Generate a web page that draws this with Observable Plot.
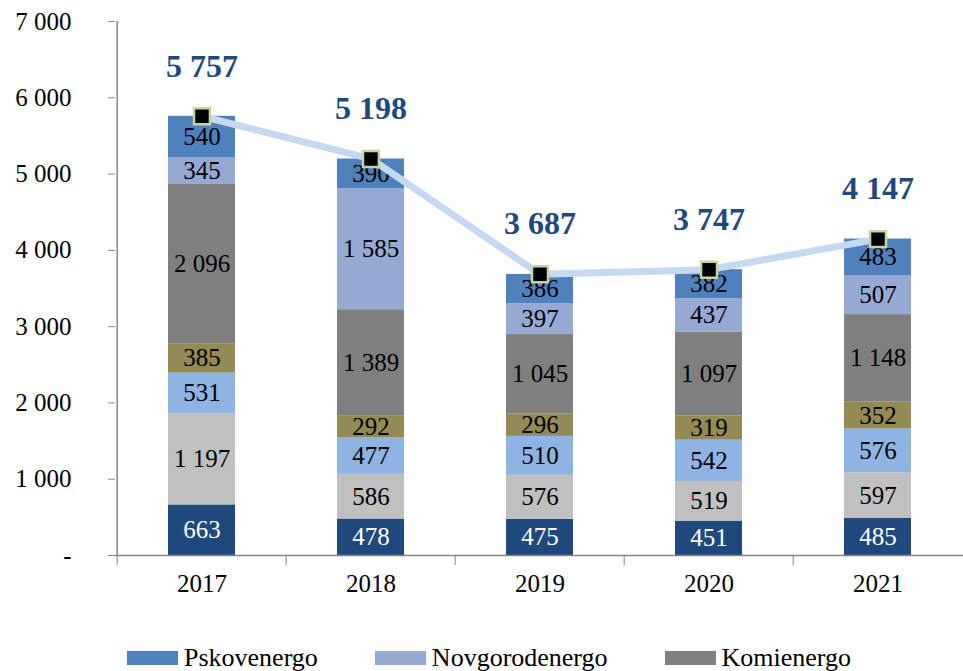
<!DOCTYPE html>
<html>
<head>
<meta charset="utf-8">
<script src="https://cdn.jsdelivr.net/npm/d3@7"></script>
<script src="https://cdn.jsdelivr.net/npm/@observablehq/plot@0.6"></script>
<style>
  body { margin: 0; background: #fff; font-family: "Liberation Serif", serif; }
  #wrap { position: relative; width: 963px; height: 671px; overflow: hidden; }
  #legend { position: absolute; left: 127px; top: 643px; display: flex; align-items: center; font-size: 26px; color: #000; white-space: nowrap; }
  .item { display: flex; align-items: center; margin-right: 57px; }
  .sw { width: 51px; height: 14px; margin-right: 6px; }
</style>
</head>
<body>
<div id="wrap">
  <div id="chart"></div>
  <div id="legend"></div>
</div>
<script>
// ---- data ----
const years = ["2017", "2018", "2019", "2020", "2021"];
const seriesNames = ["Arkhenergo", "Vologdaenergo", "Karelenergo", "Kolenergo", "Komienergo", "Novgorodenergo", "Pskovenergo"];
const seriesColors = ["#1f497d", "#c0c0c0", "#8db4e2", "#948a54", "#7f7f7f", "#95a9d3", "#4f81bd"];
const arkhenergo     = [663, 478, 475, 451, 485];
const vologdaenergo  = [1197, 586, 576, 519, 597];
const karelenergo    = [531, 477, 510, 542, 576];
const kolenergo      = [385, 292, 296, 319, 352];
const komienergo     = [2096, 1389, 1045, 1097, 1148];
const novgorodenergo = [345, 1585, 397, 437, 507];
const pskovenergo    = [540, 390, 386, 382, 483];
const totals         = [5757, 5198, 3687, 3747, 4147];
const yTicks = [0, 1000, 2000, 3000, 4000, 5000, 6000, 7000];
const legendNames = ["Pskovenergo", "Novgorodenergo", "Komienergo"];

// ---- tables ----
const seriesValues = [arkhenergo, vologdaenergo, karelenergo, kolenergo, komienergo, novgorodenergo, pskovenergo];
const table = [];
seriesNames.forEach((s, i) => years.forEach((y, j) => table.push({year: y, series: s, value: seriesValues[i][j]})));
const totalTable = years.map((y, j) => ({year: y, total: totals[j]}));

const fmt = v => v === 0 ? "-" : d3.format(",")(v).replace(/,/g, "\u00a0");

const W = 963, marginLeft = 115, marginRight = 0;
const band = (W - marginLeft - marginRight) / years.length;
const gray = "#868686";
const bottomSeries = seriesNames[0];

const chart = Plot.plot({
  width: W,
  height: 620,
  marginTop: 21,
  marginBottom: 65,
  marginLeft,
  marginRight,
  style: {fontFamily: "Liberation Serif", fontSize: "25px", color: "#000", background: "transparent"},
  x: {domain: years, padding: 0, axis: null},
  y: {domain: [0, 7000], axis: null},
  color: {domain: seriesNames, range: seriesColors},
  marks: [
    Plot.barY(table, {x: "year", y: "value", fill: "series", order: seriesNames, insetLeft: 51, insetRight: 51}),
    Plot.text(table, Plot.stackY({x: "year", y: "value", z: "series", order: seriesNames, text: d => d.series === bottomSeries ? null : fmt(d.value), fill: "black", fontSize: 25})),
    Plot.text(table, Plot.stackY({x: "year", y: "value", z: "series", order: seriesNames, text: d => d.series === bottomSeries ? fmt(d.value) : null, fill: "white", fontSize: 25})),
    Plot.axisY({ticks: yTicks, tickFormat: fmt, tickSize: 7, tickPadding: 37, stroke: gray, fill: "black", fontSize: 25, label: null}),
    Plot.ruleX([years[0]], {x: d => d, y1: 0, y2: 7000, dx: -band / 2, stroke: gray, strokeWidth: 1.5}),
    Plot.ruleY([0], {stroke: gray, strokeWidth: 1.5}),
    Plot.axisX({tickSize: 10, tickFormat: () => "", stroke: gray, dx: -band / 2, label: null}),
    Plot.axisX({tickSize: 0, tickPadding: 19, fill: "black", fontSize: 25, label: null}),
    Plot.line(totalTable, {x: "year", y: "total", stroke: "#c6d9f1", strokeWidth: 7}),
    Plot.dot(totalTable, {x: "year", y: "total", symbol: "square", r: 9, fill: "black", stroke: "#c3d69b", strokeWidth: 2.5}),
    Plot.text(totalTable, {x: "year", y: "total", text: d => fmt(d.total), dy: -50, fill: "#1f497d", fontWeight: "bold", fontSize: 32})
  ]
});
document.getElementById("chart").appendChild(chart);

const legend = document.getElementById("legend");
legendNames.forEach(n => {
  const it = document.createElement("div");
  it.className = "item";
  const sw = document.createElement("span");
  sw.className = "sw";
  sw.style.background = seriesColors[seriesNames.indexOf(n)];
  const t = document.createElement("span");
  t.textContent = n;
  it.appendChild(sw); it.appendChild(t);
  legend.appendChild(it);
});
</script>
</body>
</html>
